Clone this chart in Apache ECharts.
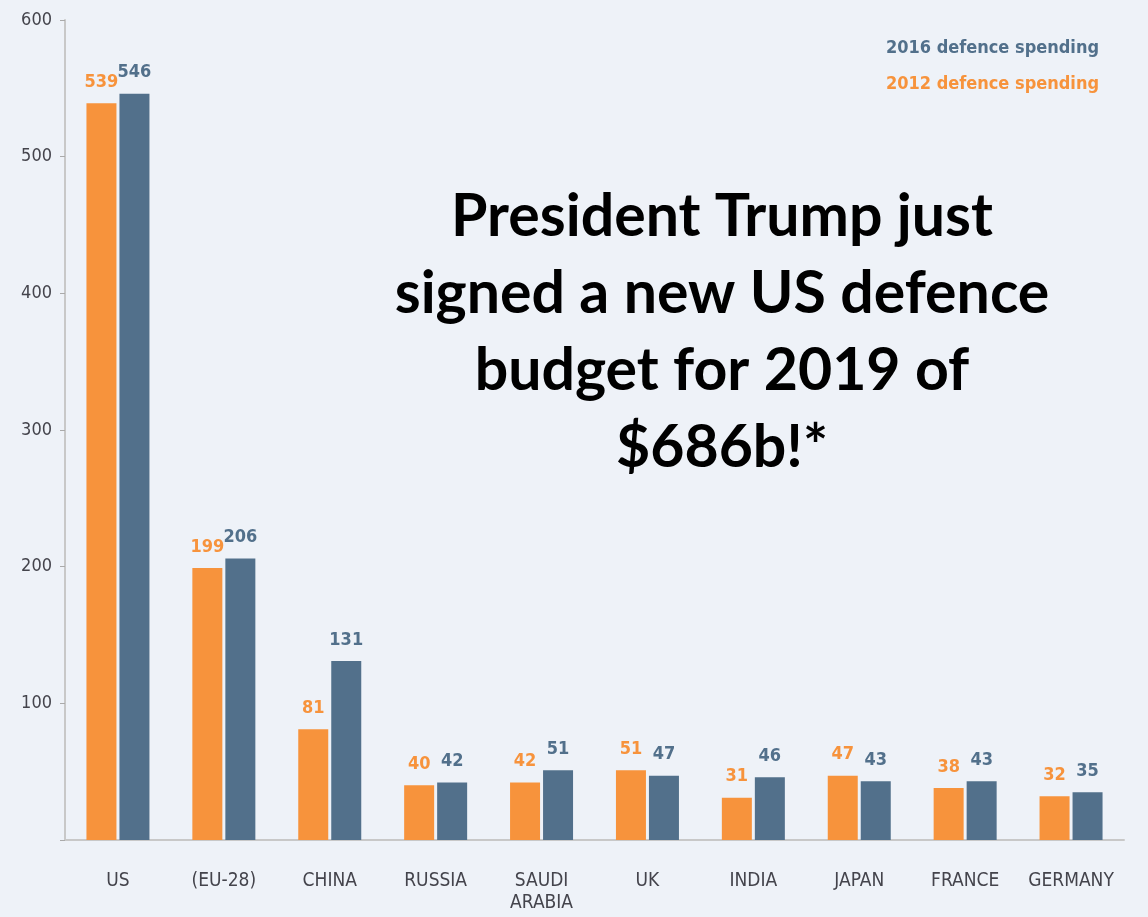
<!DOCTYPE html>
<html>
<head>
<meta charset="utf-8">
<script src="https://cdn.jsdelivr.net/npm/echarts@6/dist/echarts.min.js"></script>
<style>
html,body{margin:0;padding:0;background:#eef2f8;}
#chart{width:1148px;height:917px;}
</style>
</head>
<body>
<div id="chart"></div>
<script>
var categories = ['US', '(EU-28)', 'CHINA', 'RUSSIA', 'SAUDI\nARABIA', 'UK', 'INDIA', 'JAPAN', 'FRANCE', 'GERMANY'];
var spending2012 = [539, 199, 81, 40, 42, 51, 31, 47, 38, 32];
var spending2016 = [546, 206, 131, 42, 51, 47, 46, 43, 43, 35];
var yTicks = [0, 100, 200, 300, 400, 500, 600];
var annotation = 'President Trump just\nsigned a new US defence\nbudget for 2019 of\n$686b!*';

var ORANGE = '#f7933c';
var BLUE = '#52708b';
var labelFont = 'DejaVu Sans Condensed';

var chart = echarts.init(document.getElementById('chart'));
chart.setOption({
  backgroundColor: '#eef2f8',
  animation: false,
  grid: { left: 65, right: 24, top: 20, bottom: 77 },
  legend: {
    orient: 'vertical',
    right: 44,
    top: 34,
    itemWidth: 0,
    itemHeight: 0,
    itemGap: 18,
    icon: 'rect',
    align: 'left',
    textStyle: { fontFamily: labelFont, fontWeight: 'bold', fontSize: 18 },
    data: [
      { name: '2016 defence spending', textStyle: { color: BLUE } },
      { name: '2012 defence spending', textStyle: { color: ORANGE } }
    ]
  },
  xAxis: {
    type: 'category',
    data: categories,
    axisLine: { show: true, lineStyle: { color: '#c8c8c8', width: 2 } },
    axisTick: { show: false },
    axisLabel: {
      color: '#44444c',
      fontFamily: labelFont,
      fontSize: 19,
      margin: 30,
      lineHeight: 22,
      interval: 0
    }
  },
  yAxis: {
    type: 'value',
    min: 0,
    max: 600,
    interval: 100,
    splitLine: { show: false },
    axisLine: { show: true, lineStyle: { color: '#c8c8c8', width: 2 } },
    axisTick: { show: true, length: 5, lineStyle: { color: '#aaa' } },
    axisLabel: {
      color: '#44444c',
      fontFamily: labelFont,
      fontSize: 18,
      margin: 13,
      formatter: function (v) { return v === 0 ? '' : v; }
    }
  },
  series: [
    {
      name: '2012 defence spending',
      type: 'bar',
      data: spending2012,
      barWidth: 30,
      barGap: '10%',
      itemStyle: { color: ORANGE },
      label: {
        show: true, position: 'top', distance: 12,
        color: ORANGE, fontFamily: labelFont, fontWeight: 'bold', fontSize: 18
      }
    },
    {
      name: '2016 defence spending',
      type: 'bar',
      data: spending2016,
      barWidth: 30,
      itemStyle: { color: BLUE },
      label: {
        show: true, position: 'top', distance: 12,
        color: BLUE, fontFamily: labelFont, fontWeight: 'bold', fontSize: 18
      }
    }
  ],
  graphic: [
    {
      type: 'text',
      x: 722,
      y: 178,
      style: {
        text: annotation,
        textAlign: 'center',
        textVerticalAlign: 'top',
        fill: '#000',
        font: 'bold 59px Lato',
        lineHeight: 77
      }
    }
  ]
});
</script>
</body>
</html>
